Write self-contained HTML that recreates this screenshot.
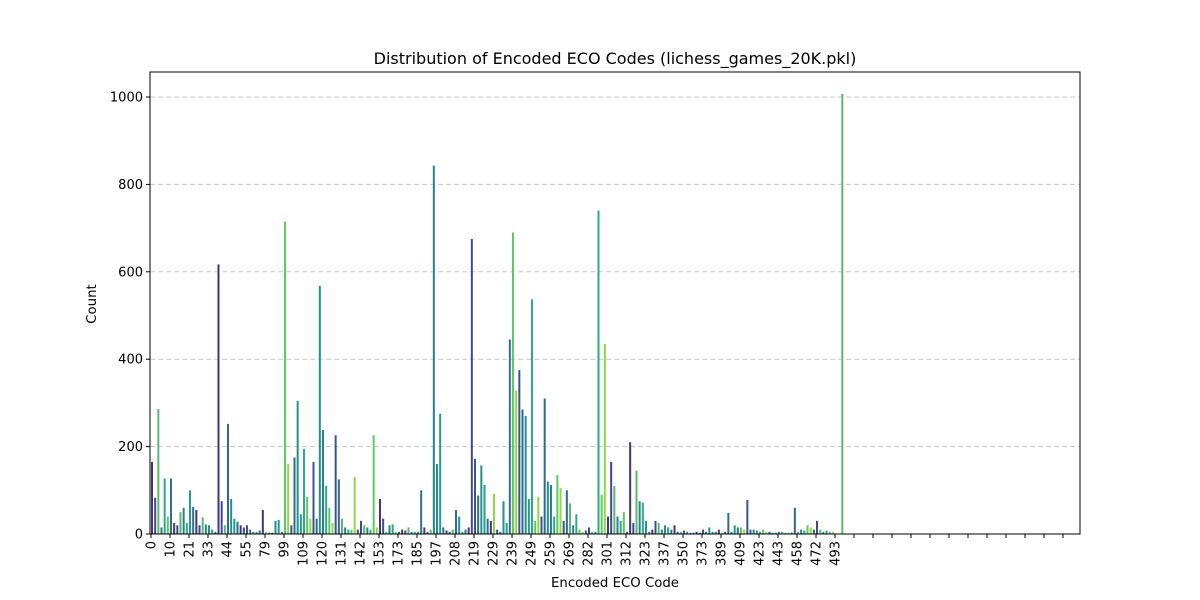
<!DOCTYPE html>
<html><head><meta charset="utf-8"><style>
body{margin:0;background:#fff;}
svg{display:block;font-family:"DejaVu Sans","Liberation Sans",sans-serif;}
</style></head><body>
<svg id="chart" width="1200" height="600">
<rect width="1200" height="600" fill="#fff"/>
<text x="615" y="64" text-anchor="middle" font-size="16">Distribution of Encoded ECO Codes (lichess_games_20K.pkl)</text>
<text x="615" y="587" text-anchor="middle" font-size="13.3">Encoded ECO Code</text>
<text transform="translate(96,304) rotate(-90)" text-anchor="middle" font-size="13.3">Count</text>
<g id="grid"></g><g id="bars"></g><g id="axes"></g>
</svg>
<script>
const tickLabels = ["0","10","21","33","44","55","79","99","109","120","131","142","153","173","185","197","208","219","229","239","249","259","269","282","301","312","323","337","350","373","389","409","423","443","458","472","493"];
const yTicks = [0,200,400,600,800,1000];
const groupValues = [
[165,83,286,15,127,40],[127,25,20,50,60,25],[100,62,55,20,38,22],[20,10,5,617,75,20],
[252,80,35,28,20,15],[20,10,5,5,8,55],[5,3,3,30,32,5],[715,160,20,175,305,45],
[195,85,35,165,35,568],[238,110,60,25,226,125],[35,15,10,10,130,10],[30,20,15,10,226,15],
[80,35,5,20,22,5],[5,10,8,15,5,5],[5,100,15,5,10,843],[160,275,15,8,5,10],
[55,40,5,10,15,675],[172,88,157,112,35,30],[92,10,5,75,25,445],[690,328,375,285,270,80],
[537,30,85,40,310,120],[112,40,135,105,30,100],[70,20,45,10,5,8],[15,5,5,740,90,435],
[40,165,110,40,30,50],[5,210,25,145,75,72],[30,5,10,30,25,10],[20,15,10,20,5,5],
[8,5,3,3,5,3],[10,5,15,5,5,10],[3,5,48,5,20,15],[15,10,78,10,10,8],
[5,10,5,5,3,3],[5,5,3,3,3,60],[5,10,8,20,15,10],[30,10,5,8,5,5],[0,0,1007,0,0,0]
];
const palette = ["#46337e","#3b528b","#5cb870","#21918c","#28ae80","#2c728e","#8fd744","#3e4a89","#31688e","#26828e","#1f9e89","#5ec962"];
const NS="http://www.w3.org/2000/svg";
const X0=150,X1=1080,Y0=72,Y1=534,nTicks=49;
const tickX=i=>151+i*19;
const yScale=v=>Y1-v*(Y1-97)/1000;
function mk(tag,attrs,parent){const e=document.createElementNS(NS,tag);for(const k in attrs)e.setAttribute(k,attrs[k]);parent.appendChild(e);return e;}
const grid=document.getElementById('grid'),bars=document.getElementById('bars'),axes=document.getElementById('axes');
yTicks.forEach(v=>{
  if(v>0){const g=mk('line',{x1:X0,x2:X1,y1:yScale(v),y2:yScale(v),stroke:'#c8c8c8','stroke-dasharray':'5,3','stroke-width':1},grid);
  
  }
  const t=mk('line',{x1:X0-4,x2:X0,y1:yScale(v),y2:yScale(v),stroke:'#000'},axes);
  
  
  const l=mk('text',{x:X0-7,y:yScale(v)+4.5,'text-anchor':'end','font-size':13},axes);l.textContent=v;
  
  
});
groupValues.forEach((vals,gi)=>{
  vals.forEach((v,si)=>{
    if(v<=0)return;
    const x=tickX(gi)+si*19/6;
    const r=mk('rect',{x:x,y:yScale(v),width:2,height:Y1-yScale(v),fill:palette[(gi*5+si*7)%palette.length]},bars);
    
    
  });
});
mk('rect',{x:X0,y:Y0,width:X1-X0,height:Y1-Y0,fill:'none',stroke:'#000','stroke-width':1},axes);
for(let i=0;i<nTicks;i++){
  const t=mk('line',{x1:tickX(i),x2:tickX(i),y1:Y1,y2:Y1+4,stroke:'#000'},axes);
  
  
  if(i<tickLabels.length){
    const l=mk('text',{transform:`translate(${tickX(i)+4.5},${Y1+7}) rotate(-90)`,'text-anchor':'end','font-size':13},axes);
    l.textContent=tickLabels[i];
    
    
  }
}
</script>
</body></html>
